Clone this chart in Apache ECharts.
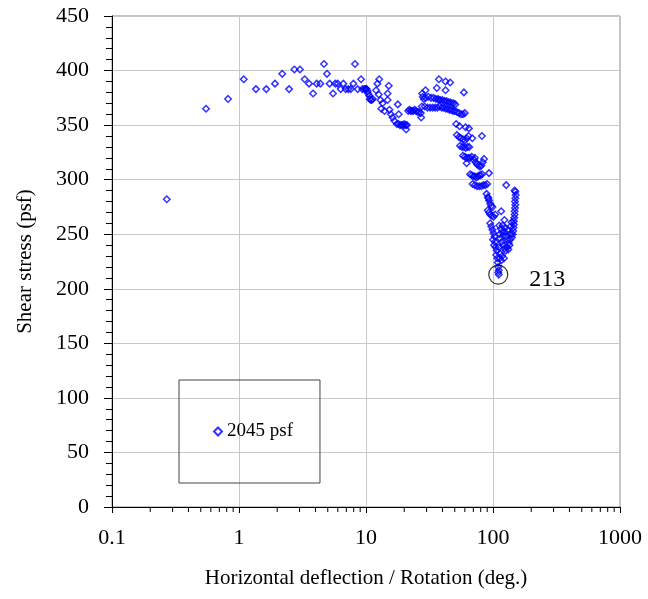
<!DOCTYPE html>
<html>
<head>
<meta charset="utf-8">
<script src="https://cdn.jsdelivr.net/npm/echarts@6/dist/echarts.min.js"></script>
<style>
	html, body { margin: 0; padding: 0; background: #fff; }
	#chart { width: 648px; height: 599px; }
</style>
</head>
<body>
<div id="chart"></div>
<script>
var seriesName = '2045 psf';

// horizontal deflection / rotation (deg.)
var deflection = [
	0.27, 0.55, 0.82, 1.09, 1.36, 1.64, 1.92, 2.19, 2.48, 2.73, 3.02, 3.29, 3.56, 3.83, 4.09, 4.37, 4.67, 4.93, 5.17, 5.50,
	5.73, 5.98, 6.32, 6.63, 6.92, 7.26, 7.59, 7.95, 8.19, 8.60, 9.14, 9.36, 9.70, 10.05,
	9.9, 10.1, 10.3, 10.4, 10.6, 10.7, 10.9, 11.1, 11.3,
	12.0, 12.3, 12.7, 12.6, 13.0, 13.5, 13.2, 14.0, 14.8, 15.1, 14.8, 15.3, 15.7, 16.2, 16.7, 17.8, 18.1,
	17.5, 18.0, 18.5, 19.0, 19.5, 20.0, 20.5, 21.0, 20.7,
	21.5, 22.0, 22.5, 23.0, 23.6, 24.2, 24.8, 25.5, 26.2, 27.0, 27.2,
	27.7, 29.4, 28.5,
	28, 29.5, 31, 32.5, 34, 35.5, 37, 38.5, 40, 41.5, 43, 44.5, 46, 47.5, 49, 50.5,
	27.5, 29, 30.5, 32, 33.5, 35, 36.5, 38, 39.5, 41, 42.5, 44, 45.5, 47, 48.5, 50, 52, 54, 56, 58, 60,
	37.5, 42.3, 46, 36.1, 42.3, 59, 37.5,
	51.3, 54.6, 60.8, 64.6, 68.7, 81.8,
	52, 54, 56, 58, 60, 62, 64,
	55, 57, 59, 61, 63, 65,
	58, 60, 62, 64, 66, 68, 62,
	71, 73, 75, 77, 79, 81, 83, 85, 72,
	66, 68, 70, 72, 74, 76, 78, 80, 82, 93,
	69, 72, 75, 78, 81, 84, 87, 90,
	89, 91, 93, 95, 97, 99, 92,
	91, 93, 95, 98, 101, 104,
	95, 97, 99, 101, 103, 100, 104, 102, 105, 107, 106, 108, 109, 110, 111, 110, 111,
	127, 148,
	150, 151, 150, 149, 150, 149, 148, 148, 147, 146, 146, 145, 144, 143, 141,
	116, 123,
	112, 115, 118, 121, 124, 127, 130, 133, 136, 139, 114, 117, 120, 123, 126, 129, 132, 135,
	113, 119, 125, 131, 137, 140, 111, 114, 118, 122, 116, 113
];

// shear stress (psf)
var stress = [
	282, 365, 374, 392, 383, 383, 388, 397, 383, 401, 401, 392, 388, 379, 388, 388, 406, 397, 388, 379,
	388, 388, 383, 388, 383, 383, 383, 388, 406, 383, 392, 383, 383, 383,
	383, 383, 381, 379, 377, 374, 373, 373, 374,
	382, 388, 392, 378, 373, 370, 365, 363, 379, 386, 373, 364, 360, 357, 354, 369, 360,
	351, 351, 350, 350, 350, 351, 350, 350, 346,
	363, 364, 363, 363, 363, 364, 363, 362, 362, 361, 357,
	379, 382, 374,
	376, 375, 376, 375, 375, 374, 374, 373, 373, 372, 372, 371, 371, 370, 370, 369,
	367, 367, 366, 366, 366, 366, 366, 367, 366, 366, 365, 365, 364, 364, 363, 363, 362, 361, 360, 360, 361,
	392, 390, 389, 384, 382, 380, 373,
	351, 349, 348, 347, 338, 340,
	341, 339, 338, 337, 336, 338, 340,
	331, 330, 330, 329, 330, 330,
	322, 321, 320, 320, 320, 321, 315,
	318, 316, 314, 313, 312, 313, 316, 319, 320,
	305, 304, 303, 303, 302, 303, 304, 304, 305, 306,
	296, 295, 294, 294, 294, 295, 295, 296,
	287, 284, 281, 278, 276, 275, 283,
	272, 270, 268, 267, 266, 268,
	260, 257, 254, 251, 248, 245, 243, 240, 238, 235, 231, 228, 224, 220, 217, 215, 213,
	295, 290,
	289, 286, 283, 280, 277, 274, 271, 268, 265, 262, 259, 256, 253, 250, 247,
	271, 263,
	258, 255, 252, 249, 252, 248, 245, 242, 245, 250, 246, 243, 240, 237, 235, 238, 236, 240,
	250, 258, 256, 254, 257, 261, 238, 232, 230, 228, 226, 228
];

// circled minimum
var minDeflection = [110];
var minStress = [213];

var yTicks = [0, 50, 100, 150, 200, 250, 300, 350, 400, 450];
var xDecades = [0.1, 1, 10, 100, 1000];

var points = [];
for (var i = 0; i < deflection.length; i++) {
	points.push([deflection[i], stress[i]]);
}

// log minor ticks at 2..9 of each decade
var minorTicks = [];
for (var d = 0; d < xDecades.length - 1; d++) {
	for (var m = 2; m <= 9; m++) {
		minorTicks.push([xDecades[d] * m, yTicks[0]]);
	}
}

var font = 'Liberation Serif';
var chart = echarts.init(document.getElementById('chart'), null, { renderer: 'canvas', width: 648, height: 599 });

chart.setOption({
	animation: false,
	backgroundColor: '#fff',
	grid: { left: 112, right: 28, top: 16, bottom: 92, show: true, borderColor: '#8a8a8a', borderWidth: 1 },
	legend: {
		data: [seriesName],
		left: 179, top: 380,
		orient: 'vertical',
		padding: [42, 27, 42, 34],
		borderColor: '#444', borderWidth: 1,
		itemWidth: 8, itemHeight: 8, itemGap: 6,
		textStyle: { fontFamily: font, fontSize: 19, color: '#000' }
	},
	xAxis: {
		type: 'log', logBase: 10, min: xDecades[0], max: xDecades[xDecades.length - 1],
		name: 'Horizontal deflection / Rotation (deg.)',
		nameLocation: 'middle', nameGap: 61,
		nameTextStyle: { fontFamily: font, fontSize: 21, color: '#000' },
		axisLine: { onZero: false, lineStyle: { color: '#000', width: 1 } },
		axisTick: { show: true, length: 6, lineStyle: { color: '#000' } },
		axisLabel: { fontFamily: font, fontSize: 22, color: '#000', margin: 20, formatter: function (v) { return String(v); } },
		splitLine: { show: true, lineStyle: { color: '#c8c8c8', width: 1 } }
	},
	yAxis: {
		type: 'value', min: yTicks[0], max: yTicks[yTicks.length - 1], interval: 50,
		name: 'Shear stress (psf)',
		nameLocation: 'middle', nameGap: 76,
		nameTextStyle: { fontFamily: font, fontSize: 21, color: '#000' },
		axisLine: { show: true, lineStyle: { color: '#000', width: 1 } },
		axisTick: { show: true, length: 8, lineStyle: { color: '#000' } },
		minorTick: { show: true, splitNumber: 5, length: 6, lineStyle: { color: '#000' } },
		axisLabel: { fontFamily: font, fontSize: 22, color: '#000', margin: 23 },
		splitLine: { show: true, lineStyle: { color: '#c8c8c8', width: 1 } }
	},
	series: [
		{
			name: seriesName,
			type: 'scatter',
			symbol: 'diamond',
			symbolSize: 6.5,
			itemStyle: { color: 'rgba(0,0,0,0)', borderColor: '#0000ff', borderWidth: 1.5 },
			data: points,
			z: 3
		},
		{
			name: 'min',
			type: 'scatter',
			symbol: 'circle',
			symbolSize: 19,
			itemStyle: { color: 'rgba(0,0,0,0)', borderColor: '#000', borderWidth: 1.2 },
			label: {
				show: true, position: 'right', distance: 21, offset: [0, 5],
				fontFamily: font, fontSize: 24, color: '#000', opacity: 1,
				formatter: function (p) { return String(p.value[1]); }
			},
			data: [[minDeflection[0], minStress[0]]],
			silent: true,
			z: 4
		},
		{
			name: 'minorTicks',
			type: 'custom',
			silent: true,
			clip: false,
			renderItem: function (params, api) {
				var p = api.coord([api.value(0), api.value(1)]);
				return {
					type: 'line',
					shape: { x1: p[0], y1: p[1], x2: p[0], y2: p[1] + 5 },
					style: { stroke: '#000', lineWidth: 1 }
				};
			},
			data: minorTicks,
			z: 2
		}
	]
});
</script>
</body>
</html>
